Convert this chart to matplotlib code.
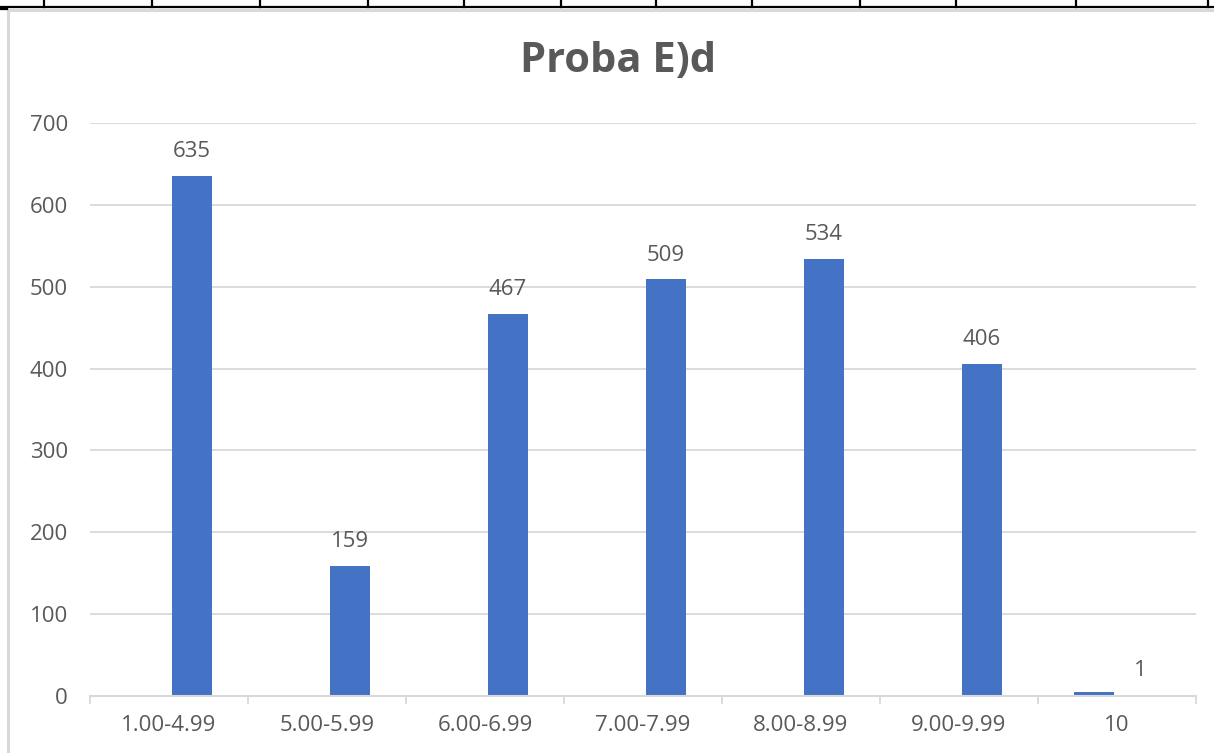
import matplotlib
matplotlib.use("Agg")
import matplotlib.pyplot as plt
from matplotlib.lines import Line2D
from matplotlib.patches import Rectangle
import numpy as np

categories = ["1.00-4.99", "5.00-5.99", "6.00-6.99", "7.00-7.99", "8.00-8.99", "9.00-9.99", "10"]
series_left = [0, 0, 0, 0, 0, 0, 5]          # unlabeled series (only visible in last category)
series_right = [635, 159, 467, 509, 534, 406, 1]  # labeled series
title = "Proba E)d"
yticks = [0, 100, 200, 300, 400, 500, 600, 700]

W, H = 1214, 753
DPI = 100
plt.rcParams['font.family'] = ['Open Sans', 'DejaVu Sans']
text_color = "#595959"
grid_color = "#d9d9d9"
bar_color = "#4472c4"
fs = 16

fig = plt.figure(figsize=(W / DPI, H / DPI), dpi=DPI)
fig.patch.set_facecolor("white")

def fx(px):
    return px / W

def fy(py):
    return 1 - py / H

# spreadsheet grid remnants at the top
fig.add_artist(Line2D([0, 1], [fy(6.5), fy(6.5)], color="black", lw=1.6, transform=fig.transFigure))
for xv in [44, 152, 260, 368, 464, 561, 656, 752, 860, 956, 1076, 1208]:
    fig.add_artist(Line2D([fx(xv), fx(xv)], [fy(0), fy(7)], color="black", lw=1.6, transform=fig.transFigure))
fig.add_artist(Line2D([0, fx(7)], [fy(8.5), fy(8.5)], color="black", lw=1.6, transform=fig.transFigure))
# chart border
fig.add_artist(Rectangle((fx(8), fy(760)), fx(1300), fy(10) - fy(760), fill=False,
                         edgecolor="#d9d9d9", lw=2.2, transform=fig.transFigure))

ax = fig.add_axes([fx(90), fy(696), fx(1196) - fx(90), fy(123) - fy(696)])
x = np.arange(len(categories))
off = 0.146
bw = 0.253
ax.bar(x - off, series_left, width=bw, color=bar_color, zorder=3)
ax.bar(x + off, series_right, width=bw, color=bar_color, zorder=3)
for xi, v in zip(x, series_right):
    ax.annotate(str(v), (xi + off, v), xytext=(0, 13.5), textcoords="offset points",
                ha="center", va="baseline", fontsize=fs, color=text_color)

ax.set_xlim(-0.5, len(categories) - 0.5)
ax.set_ylim(0, 700)
ax.set_yticks(yticks)
ax.set_yticklabels([str(t) for t in yticks])
ax.set_xticks(x)
ax.set_xticklabels(categories)
ax.set_xticks(np.arange(-0.5, len(categories)), minor=True)
ax.tick_params(axis="x", which="major", length=0, pad=14, labelsize=fs, labelcolor=text_color)
ax.tick_params(axis="x", which="minor", length=6, width=1.3, color=grid_color)
ax.tick_params(axis="y", length=0, pad=16, labelsize=fs, labelcolor=text_color)
ax.grid(axis="y", color=grid_color, lw=1.3, zorder=0)
for s in ["top", "right", "left"]:
    ax.spines[s].set_visible(False)
ax.spines["bottom"].set_color(grid_color)
ax.spines["bottom"].set_linewidth(1.5)
ax.spines["bottom"].set_zorder(4)

fig.text(fx(618), fy(62), title, ha="center", va="center", fontsize=30,
         fontweight="bold", color=text_color)

fig.savefig("out.png", dpi=DPI)
